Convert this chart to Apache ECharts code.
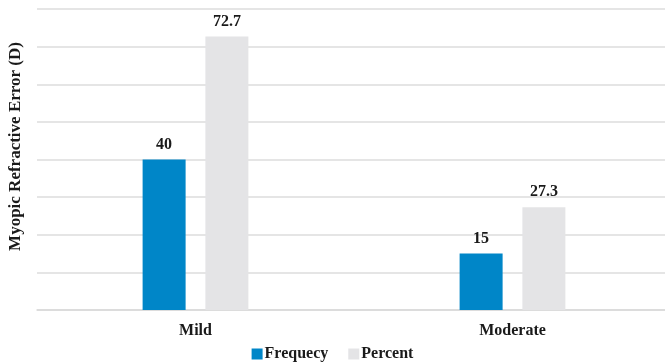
<!DOCTYPE html>
<html>
<head>
<meta charset="utf-8">
<script src="https://cdn.jsdelivr.net/npm/echarts@6/dist/echarts.min.js"></script>
<style>
  html, body { margin: 0; padding: 0; background: #fff; }
  #chart { width: 665px; height: 362px; }
</style>
</head>
<body>
<div id="chart"></div>
<script>
// Severity categories and the two measures plotted for each
const categories = ['Mild', 'Moderate'];
const frequency = [40, 15];
const percent = [72.7, 27.3];
const seriesNames = ['Frequecy', 'Percent'];
const axisTitle = 'Myopic Refractive Error (D)';

const serif = '"Liberation Serif", "DejaVu Serif", serif';
const textColor = '#1a1a1a';

const chart = echarts.init(document.getElementById('chart'), null, { renderer: 'canvas' });

const labelStyle = {
  show: true,
  position: 'top',
  distance: 7,
  fontFamily: serif,
  fontWeight: 'bold',
  fontSize: 16,
  color: textColor
};

chart.setOption({
  animation: false,
  backgroundColor: '#ffffff',
  grid: { left: 37, width: 634, top: 9, bottom: 52, containLabel: false, outerBoundsMode: 'none' },
  legend: {
    data: seriesNames,
    bottom: -5,
    left: 'center',
    itemWidth: 11,
    itemHeight: 11,
    itemGap: 20,
    icon: 'rect',
    textStyle: { fontFamily: serif, fontWeight: 'bold', fontSize: 16, color: textColor, padding: [0, 0, 0, -3] }
  },
  xAxis: {
    type: 'category',
    data: categories,
    axisTick: { show: false },
    axisLine: { show: true, lineStyle: { color: '#d9d9d9', width: 1.5 } },
    axisLabel: { margin: 13, fontFamily: serif, fontWeight: 'bold', fontSize: 16, color: textColor }
  },
  yAxis: {
    type: 'value',
    min: 0,
    max: 80,
    interval: 10,
    name: axisTitle,
    nameLocation: 'middle',
    nameRotate: 90,
    nameGap: 13,
    nameTextStyle: { fontFamily: serif, fontWeight: 'bold', fontSize: 17, color: textColor, padding: [0, 0, 0, 26] },
    axisLabel: { show: false },
    axisTick: { show: false },
    axisLine: { show: false },
    splitLine: { lineStyle: { color: '#dcdcdc', width: 1.5 } }
  },
  series: [
    {
      name: seriesNames[0],
      type: 'bar',
      data: frequency,
      barWidth: 43,
      barGap: '46%',
      itemStyle: { color: '#0086c8' },
      label: labelStyle
    },
    {
      name: seriesNames[1],
      type: 'bar',
      data: percent,
      barWidth: 43,
      itemStyle: { color: '#e4e4e6' },
      label: labelStyle
    }
  ]
});
</script>
</body>
</html>
